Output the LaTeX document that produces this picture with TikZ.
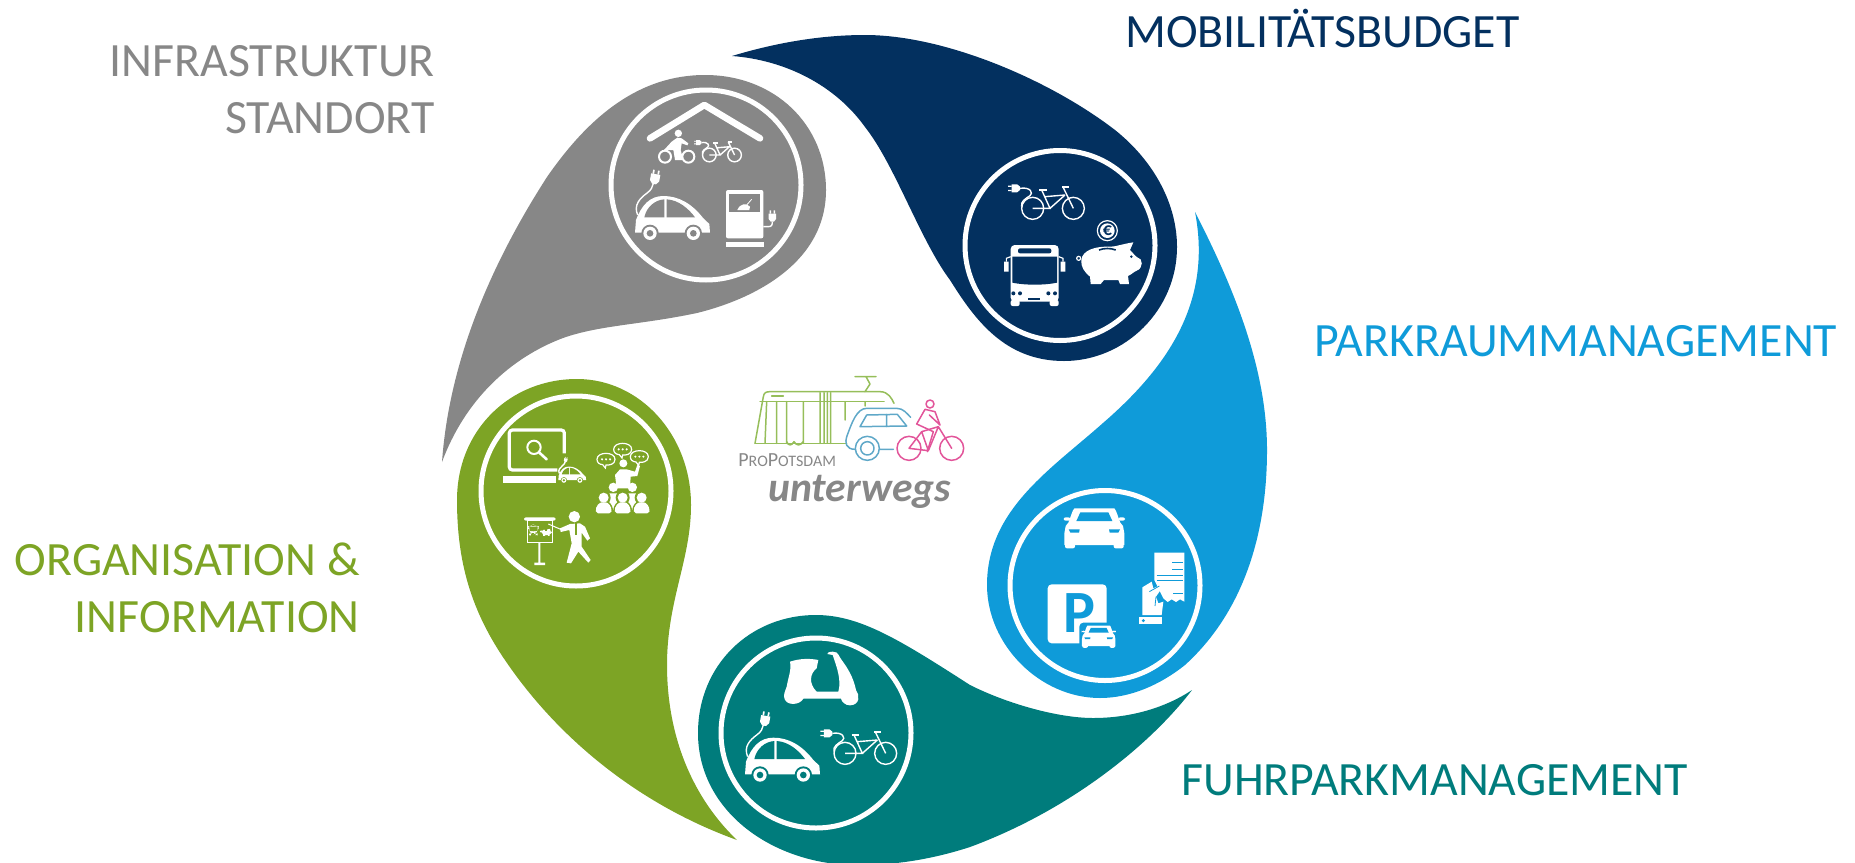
\documentclass[tikz,border=0pt]{standalone}
\usepackage{fontspec}
\setmainfont{Carlito}
\definecolor{greyc}{HTML}{878787}
\definecolor{navyc}{HTML}{03305F}
\definecolor{bluec}{HTML}{0F9BD9}
\definecolor{tealc}{HTML}{007C7C}
\definecolor{greenc}{HTML}{7DA425}
\definecolor{tramc}{HTML}{96BE5A}
\definecolor{carc}{HTML}{5FA8C8}
\definecolor{bikec}{HTML}{E2559A}
\colorlet{iconbg}{greyc}
\tikzset{
    icon/.style={fill=white},
    iconline/.style={draw=white,line width=.7pt},
    iconcut/.style={fill=iconbg},
}
\newcommand{\placeicon}[3][]{\begin{scope}[shift={#2},#1] #3 \end{scope}}
\newcommand{\iconplug}{
    \fill[icon] (-6,0) -- (6,0) -- (14,-10) -- (14,-30) -- (-14,-30) -- (-14,-10) -- cycle;
    \fill[icon] (-10,-42) rectangle (-5,-30) (5,-42) rectangle (10,-30);
}
\newcommand{\iconecar}{
    \fill[icon] (0,-2) -- (225,-2) -- (223,-28) -- (205,-45) .. controls (170,-90) and (130,-112) .. (85,-112) .. controls (45,-112) and (20,-85) .. (3,-40) -- cycle;
    \fill[iconcut] (45,0) circle (26) (175,0) circle (26);
    \fill[icon] (45,0) circle (20) (175,0) circle (20);
    \fill[iconcut] (45,0) circle (10) (175,0) circle (10);
    \fill[iconcut] (28,-48) .. controls (35,-80) and (60,-100) .. (88,-102) -- (88,-48) -- cycle;
    \fill[iconcut] (95,-102) .. controls (130,-100) and (160,-75) .. (180,-48) -- (95,-48) -- cycle;
    \draw[iconline] (8,-55) .. controls (-5,-85) and (15,-105) .. (35,-120) .. controls (50,-130) and (52,-140) .. (55,-150);
    \placeicon[rotate=-10]{(57,-148)}{\iconplug}
}
\newcommand{\iconebike}{
    \draw[iconline] (0,0) circle (33) (122,0) circle (33);
    \draw[iconline] (0,0) -- (52,0) -- (27,-55) (37,-35) -- (97,-40) (52,0) -- (97,-40) (92,-62) -- (122,0);
    \draw[iconline,line width=1pt] (20,-56) -- (42,-56) (88,-65) -- (108,-65);
    \draw[iconline] (-38,-60) .. controls (-5,-65) and (2,-45) .. (-8,-38) .. controls (-20,-30) and (-38,-20) .. (-33,-5);
    \placeicon[rotate=90,scale=.85]{(-38,-60)}{\iconplug}
}
\newcommand{\iconbus}{
    \fill[icon,rounded corners=2pt] (-72,-85) rectangle (72,85);
    \fill[icon,rounded corners=1pt] (-72,80) rectangle (-45,98) (45,80) rectangle (72,98);
    \fill[icon] (-92,-35) rectangle (-78,-5) (78,-35) rectangle (92,-5);
    \draw[white,line width=.6pt] (-85,-35) -- (-85,-45) -- (-72,-50) (85,-35) -- (85,-45) -- (72,-50);
    \fill[iconcut,rounded corners=1pt] (-50,-75) rectangle (50,-60);
    \fill[iconcut] (-67,-50) -- (67,-50) -- (67,28) .. controls (30,36) and (-30,36) .. (-67,28) -- cycle;
    \fill[iconcut] (-64,60) circle (6) (-44,60) circle (6) (41,60) circle (6) (61,60) circle (6);
    \fill[iconcut] (-20,73) rectangle (16,80);
}
\newcommand{\iconpiggy}{
    \fill[icon] (-78,-10) .. controls (-75,-40) and (-35,-52) .. (10,-50) .. controls (25,-50) and (45,-58) .. (78,-63) -- (68,-40) .. controls (78,-30) and (85,-20) .. (90,-18) .. controls (108,-15) and (108,15) .. (88,22) .. controls (80,25) and (70,35) .. (62,38) -- (65,62) -- (38,62) -- (33,50) -- (-10,50) -- (-20,62) -- (-50,62) -- (-52,40) .. controls (-70,25) and (-80,10) .. (-78,-10) -- cycle;
    \draw[iconline,line width=.6pt] (-86,-15) circle (6);
    \draw[iconbg,line width=.8pt] (-25,-40) .. controls (-10,-46) and (10,-46) .. (25,-40);
    \fill[iconcut] (72,-20) circle (4);
}
\newcommand{\iconcarfront}{
    \fill[icon] (-60,-65) -- (60,-65) .. controls (66,-60) and (72,-35) .. (78,-22) -- (86,-12) -- (90,10) -- (90,45) -- (-90,45) -- (-90,10) -- (-86,-12) -- (-78,-22) .. controls (-72,-35) and (-66,-60) .. (-60,-65) -- cycle;
    \fill[icon,rounded corners=1pt] (-88,40) rectangle (-58,55) (58,40) rectangle (88,55);
    \fill[icon,rounded corners=1pt] (-92,-38) rectangle (-72,-28) (72,-38) rectangle (92,-28);
    \fill[iconcut] (-54,-27) -- (-42,-53) -- (42,-53) -- (54,-27) -- cycle;
    \fill[iconcut] (-77,-2) -- (-44,-2) -- (-46,8) -- (-72,8) -- cycle (77,-2) -- (44,-2) -- (46,8) -- (72,8) -- cycle;
}
\newcommand{\iconmember}{
    \fill[iconcut] (0,-47) circle (21);
    \fill[iconcut] (-29,5) .. controls (-31,-25) and (-15,-40) .. (0,-40) .. controls (15,-40) and (31,-25) .. (29,5) -- cycle;
    \fill[icon] (0,-47) circle (15);
    \fill[icon,rounded corners=1pt] (-23,0) .. controls (-25,-22) and (-12,-33) .. (0,-33) .. controls (12,-33) and (25,-22) .. (23,0) -- cycle;
}
\newcommand{\iconbubble}{
    \draw[iconline,line width=.6pt,fill=iconbg] (-27,0) .. controls (-27,-24) and (27,-24) .. (27,0) .. controls (27,16) and (8,18) .. (0,17) -- (-2,26) -- (-10,16) .. controls (-20,15) and (-27,10) .. (-27,0) -- cycle;
    \fill[icon] (-12,0) circle (3.5) (0,0) circle (3.5) (12,0) circle (3.5);
}
\begin{document}
\begin{tikzpicture}[x=.5pt,y=-.5pt,
    ring/.style={circle,draw=white,line width=2.5pt,minimum size=95pt,inner sep=0pt},
    heading/.style={font=\fontsize{23.9}{28.5}\selectfont,inner sep=0pt},
    logoline/.style={line width=.75pt,line join=round,line cap=round}]
\useasboundingbox (0,0) rectangle (1855,862);

% the five blobs
\fill[greyc] (442,462) .. controls (450,350) and (500,250) .. (547,177) .. controls (590,115) and (640,75) .. (705,75) .. controls (775,75) and (826,125) .. (826,190) .. controls (826,265) and (750,300) .. (697,313) .. controls (640,325) and (600,325) .. (563,338) .. controls (510,358) and (465,400) .. (442,462) -- cycle;
\fill[navyc] (732,56) .. controls (775,43) and (820,35) .. (865,35) .. controls (945,35) and (1050,80) .. (1115,130) .. controls (1155,162) and (1177,205) .. (1177,247) .. controls (1177,310) and (1125,361) .. (1064,361) .. controls (1005,361) and (975,320) .. (950,280) .. controls (920,240) and (895,165) .. (865,127) .. controls (835,85) and (785,60) .. (732,56) -- cycle;
\fill[bluec] (1195,212) .. controls (1235,290) and (1267,370) .. (1267,450) .. controls (1267,540) and (1240,615) .. (1185,665) .. controls (1160,685) and (1130,698) .. (1100,698) .. controls (1040,698) and (987,645) .. (987,585) .. controls (987,510) and (1050,470) .. (1103,423) .. controls (1170,365) and (1212,300) .. (1195,212) -- cycle;
\fill[tealc] (1192,690) .. controls (1150,745) and (1070,810) .. (970,847) .. controls (930,860) and (890,866) .. (850,865) .. controls (770,862) and (698,810) .. (698,733) .. controls (698,665) and (750,615) .. (816,615) .. controls (860,615) and (900,640) .. (970,685) .. controls (1010,705) and (1060,718) .. (1093,718) .. controls (1130,718) and (1165,708) .. (1192,690) -- cycle;
\fill[greenc] (737,840) .. controls (640,805) and (560,740) .. (507,663) .. controls (470,610) and (457,560) .. (457,500) .. controls (457,430) and (510,379) .. (577,379) .. controls (640,379) and (691,435) .. (691,505) .. controls (691,560) and (667,600) .. (667,665) .. controls (667,740) and (695,800) .. (737,840) -- cycle;

\node[ring] (ringgrey) at (706,185) {};
\node[ring] (ringnavy) at (1060,245.5) {};
\node[ring] (ringblue) at (1105,585.5) {};
\node[ring] (ringteal) at (816,733) {};
\node[ring] (ringgreen) at (576,491) {};

% labels
\node[heading,text=greyc,align=right,anchor=east] (labinfra) at (435,90) {INFRASTRUKTUR\\STANDORT};
\node[heading,text=navyc,anchor=west] (labbudget) at (1125,29) {MOBILITÄTSBUDGET};
\node[heading,text=bluec,anchor=west] (labpark) at (1314,341) {PARKRAUMMANAGEMENT};
\node[heading,text=tealc,anchor=west] (labfleet) at (1181,780) {FUHRPARKMANAGEMENT};
\node[heading,text=greenc,align=right,anchor=east] (laborga) at (360,588) {ORGANISATION \&\\INFORMATION};

% infrastruktur icons
\colorlet{iconbg}{greyc}
\begin{scope}[shift={(590,70)},scale=1/3]
\draw[white,line width=3.3pt,line cap=round,line join=round] (180,205) -- (343,105) -- (510,205);
\placeicon{(135,490)}{\iconecar}
\placeicon[scale=.62]{(358,255)}{\iconebike}
\draw[white,line width=1pt] (225,260) circle (18) (295,260) circle (18);
\fill[icon] (265,190) circle (11);
\fill[icon] (245,215) -- (262,203) -- (275,205) -- (295,220) -- (292,226) -- (275,220) -- (272,240) -- (280,270) -- (255,270) -- (250,240) -- (222,240) -- cycle;
\fill[icon,rounded corners=1pt] (408,360) rectangle (520,505);
\fill[icon] (408,515) rectangle (522,530);
\fill[iconcut] (418,372) rectangle (510,426);
\fill[icon] (442,420) .. controls (450,400) and (470,398) .. (480,410) -- (478,420) -- cycle;
\draw[iconline,line width=.4pt] (470,405) -- (485,388);
\draw[iconline] (520,470) -- (535,470) .. controls (545,470) and (547,465) .. (547,455);
\placeicon[scale=.8]{(547,455)}{\iconplug}
\end{scope}

% budget icons
\colorlet{iconbg}{navyc}
\begin{scope}[shift={(950,140)},scale=1/3]
\placeicon{(248,205)}{\iconebike}
\placeicon{(254,400)}{\iconbus}
\placeicon{(472,370)}{\iconpiggy}
\draw[iconline,line width=.6pt] (472,272) circle (30);
\fill[icon] (472,272) circle (22);
\node[text=navyc,font=\bfseries\fontsize{9}{9}\selectfont,inner sep=0pt] (euro) at (472,272) {€};
\end{scope}

% parkraum icons
\colorlet{iconbg}{bluec}
\begin{scope}[shift={(1000,480)},scale=1/3]
\placeicon{(283,150)}{\iconcarfront}
\fill[icon,rounded corners=2pt] (143,313) rectangle (320,490);
\node[text=bluec,font=\bfseries\fontsize{30}{30}\selectfont,inner sep=0pt] (psign) at (237,400) {P};
\fill[iconcut,rounded corners=2pt] (238,428) rectangle (352,520);
\placeicon[scale=.56]{(296,473)}{\iconcarfront}
\fill[icon] (463,218) -- (553,218) -- (553,365) -- (540,358) -- (528,366) -- (515,358) -- (503,366) -- (490,355) -- (463,300) -- cycle;
\draw[bluec,line width=.5pt] (517,248) -- (548,248) (517,267) -- (548,267) (470,285) -- (548,285) (470,302) -- (548,302) (520,340) -- (548,340);
\fill[icon] (427,322) -- (455,305) -- (460,325) -- (480,315) -- (485,325) -- (468,350) -- (475,370) -- (490,365) -- (485,405) -- (427,405) -- cycle;
\draw[bluec,line width=.4pt] (448,335) -- (478,318) (468,350) -- (465,378);
\fill[icon] (417,410) rectangle (485,433);
\fill[iconcut] (430,422) circle (5);
\end{scope}

% fuhrpark icons
\colorlet{iconbg}{tealc}
\begin{scope}[shift={(710,640)},scale=1/3]
\fill[icon] (240,65) .. controls (270,55) and (300,55) .. (325,60) -- (320,85) .. controls (300,100) and (295,130) .. (320,155) -- (385,155) .. controls (395,120) and (380,80) .. (368,45) -- (352,42) .. controls (350,32) and (385,32) .. (386,45) .. controls (395,65) and (425,90) .. (438,150) .. controls (450,165) and (450,195) .. (420,196) .. controls (405,196) and (395,185) .. (393,176) -- (280,176) .. controls (270,196) and (225,200) .. (222,170) .. controls (222,155) and (228,150) .. (230,140) .. controls (235,110) and (245,90) .. (240,65) -- cycle;
\placeicon{(105,405)}{\iconecar}
\placeicon{(405,340)}{\iconebike}
\end{scope}

% organisation icons
\colorlet{iconbg}{greenc}
\begin{scope}[shift={(470,410)},scale=1/3]
\draw[white,line width=1.6pt,rounded corners=1.5pt] (283,130) -- (283,60) -- (118,60) -- (118,180) -- (262,180);
\fill[icon] (98,197) rectangle (257,220);
\draw[white,line width=1pt] (192,112) circle (20);
\draw[white,line width=1.3pt,line cap=round] (207,127) -- (230,148);
\placeicon[scale=.37]{(265,211)}{\iconecar}
\fill[icon] (430,232) circle (14) (487,232) circle (14);
\fill[icon] (418,250) -- (442,250) -- (442,300) -- (418,300) -- cycle (475,250) -- (499,250) -- (499,300) -- (475,300) -- cycle;
\fill[icon] (460,160) circle (12);
\fill[icon] (435,195) -- (450,178) -- (470,178) -- (495,185) -- (502,165) -- (510,168) -- (502,198) -- (482,200) -- (480,235) -- (440,235) -- cycle;
\placeicon{(401,310)}{\iconmember}
\placeicon{(515,310)}{\iconmember}
\placeicon{(458,310)}{\iconmember}
\placeicon{(408,148)}{\iconbubble}
\placeicon{(458,118)}{\iconbubble}
\placeicon{(508,140)}{\iconbubble}
\fill[icon,rounded corners=1pt] (162,322) rectangle (257,332);
\draw[white,line width=.4pt] (172,332) rectangle (248,397);
\fill[icon] (205,397) rectangle (211,460) (193,458) rectangle (225,465);
\placeicon[scale=.17]{(190,358)}{\iconbus}
\placeicon[scale=.17]{(228,367)}{\iconpiggy}
\fill[icon] (313,320) circle (17);
\draw[white,line width=.5pt] (235,342) -- (272,358);
\fill[icon] (270,355) -- (300,342) -- (330,340) -- (345,350) -- (360,385) -- (352,392) -- (335,368) -- (335,410) -- (362,450) -- (355,458) -- (325,425) -- (303,460) -- (290,458) -- (305,400) -- (298,360) -- (272,366) -- cycle;
\draw[greenc,line width=.6pt] (318,340) -- (318,375);
\end{scope}

% logo in the middle
\begin{scope}[shift={(740,360)},scale=1/3]
\draw[logoline,tramc] (45,250) -- (70,110) .. controls (72,98) and (78,95) .. (90,95) -- (420,95) .. controls (445,95) and (455,115) .. (462,130);
\draw[logoline,tramc] (45,250) -- (320,250) (60,125) -- (432,125) (95,108) -- (130,108);
\draw[logoline,tramc] (80,125) -- (75,250) (110,125) -- (110,250) (140,125) -- (140,250) (190,125) -- (190,250) (240,98) -- (240,250) (252,98) -- (252,250) (262,98) -- (262,250) (272,98) -- (272,250) (315,125) -- (315,180) (375,125) -- (375,138);
\draw[logoline,tramc] (345,50) -- (408,50) (378,50) -- (390,72) -- (375,95) (140,245) .. controls (145,258) and (155,258) .. (162,245) .. controls (170,258) and (180,258) .. (190,245);
\draw[logoline,carc] (345,268) .. controls (320,268) and (312,250) .. (322,225) .. controls (335,190) and (350,145) .. (380,145) -- (470,145) .. controls (490,145) and (500,160) .. (512,172);
\draw[logoline,carc] (360,200) -- (380,165) -- (472,163) -- (500,198) -- cycle (440,163) -- (440,200) (418,268) -- (460,268);
\draw[logoline,carc] (382,265) circle (36) (382,265) circle (20);
\draw[logoline,bikec] (507,265) circle (36) (635,265) circle (36) (570,132) circle (12);
\draw[logoline,bikec] (507,265) -- (545,215) -- (595,200) -- (635,265) (507,265) -- (565,272) -- (595,200) (545,215) -- (565,272);
\draw[logoline,bikec] (555,148) -- (530,192) -- (580,215) -- (562,275) (568,165) -- (600,195) (555,148) -- (585,155) -- (600,195);
\end{scope}
\node[inner sep=0pt,anchor=west,text=greyc,text depth=0pt] (logotop) at (738,460) {\fontsize{10}{10}\selectfont P\fontsize{8}{8}\selectfont RO\fontsize{10}{10}\selectfont P\fontsize{8}{8}\selectfont OTSDAM};
\node[inner sep=0pt,anchor=base west,text=greyc,text height=6pt,font=\bfseries\itshape\fontsize{20.8}{20.8}\selectfont] (logobottom) at (768,501) {unterwegs};
\end{tikzpicture}
\end{document}
